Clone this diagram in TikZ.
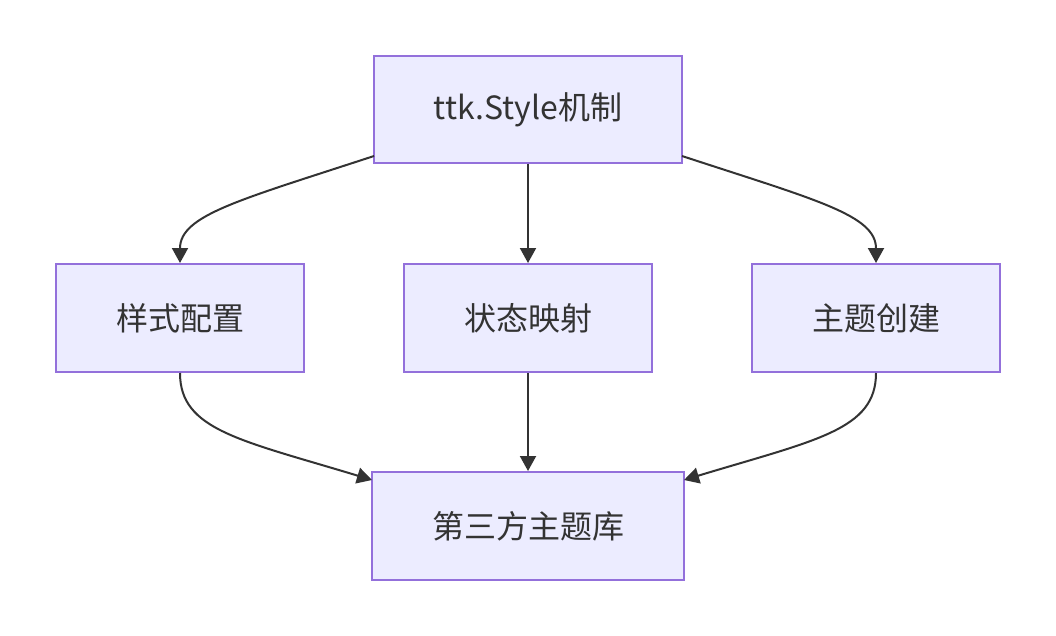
\documentclass[tikz,border=0pt]{standalone}
\usepackage{fontspec}
\setmainfont{Noto Sans CJK SC}
\usetikzlibrary{arrows.meta}
\definecolor{nodefill}{HTML}{ECECFF}
\definecolor{nodeline}{HTML}{9370DB}
\definecolor{edgecol}{HTML}{333333}
\begin{document}
\begin{tikzpicture}[x=1pt,y=-1pt,
  box/.style={draw=nodeline,fill=nodefill,line width=2pt,inner sep=0pt,
    text=edgecol,font=\fontsize{32}{38}\selectfont},
  edge/.style={draw=edgecol,line width=2pt,-{Triangle[length=15pt,width=16pt]}}]
\useasboundingbox (0,0) rectangle (1056,636);
\node[box,minimum width=308pt,minimum height=107pt] (top) at (528,109.5) {ttk.Style机制};
\node[box,minimum width=248pt,minimum height=108pt] (a) at (180,318) {样式配置};
\node[box,minimum width=248pt,minimum height=108pt] (b) at (528,318) {状态映射};
\node[box,minimum width=248pt,minimum height=108pt] (c) at (876,318) {主题创建};
\node[box,minimum width=312pt,minimum height=108pt] (bot) at (528,526) {第三方主题库};
\coordinate (t1) at (374,156);
\coordinate (t2) at (682,156);
\coordinate (b1) at (372,480);
\coordinate (b2) at (684,480);
\draw[edge] (t1) .. controls (240,200) and (180,215) .. (a.north);
\draw[edge] (top.south) -- (b.north);
\draw[edge] (t2) .. controls (816,200) and (876,215) .. (c.north);
\draw[edge] (a.south) .. controls (180,430) and (240,440) .. (b1);
\draw[edge] (b.south) -- (bot.north);
\draw[edge] (c.south) .. controls (876,430) and (816,440) .. (b2);
\end{tikzpicture}
\end{document}
